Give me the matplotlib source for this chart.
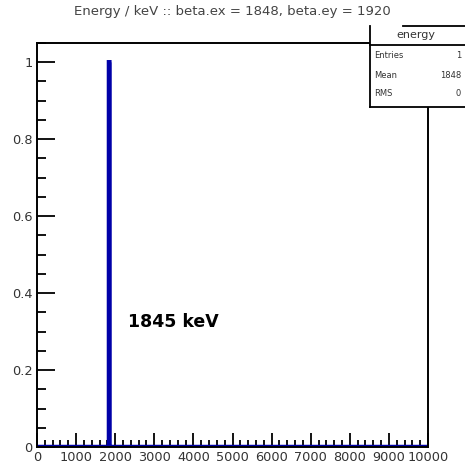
import numpy as np
import matplotlib
matplotlib.use("Agg")
import matplotlib.pyplot as plt
from matplotlib.ticker import MultipleLocator, FuncFormatter
from matplotlib.patches import Rectangle

# ---- data ----
energies = [1848]          # single entry (keV)
n_bins = 1000
x_range = (0, 10000)
title = "Energy / keV :: beta.ex = 1848, beta.ey = 1920"
hist_name = "energy"
stat_labels = ["Entries", "Mean", "RMS"]
stat_values = ["1", "1848", "0"]
peak_label = "1845 keV"

fig = plt.figure(figsize=(4.65, 4.68), dpi=100)
ax = fig.add_axes([0.0796, 0.0449, 0.8408, 0.8632])

ax.hist(energies, bins=n_bins, range=x_range, histtype="step",
        color="#0000a8", linewidth=3.2)

ax.set_xlim(*x_range)
ax.set_ylim(0, 1.05)

ax.xaxis.set_major_locator(MultipleLocator(1000))
ax.xaxis.set_minor_locator(MultipleLocator(200))
ax.yaxis.set_major_locator(MultipleLocator(0.2))
ax.yaxis.set_minor_locator(MultipleLocator(0.05))

def yfmt(v, p):
    if abs(v) < 1e-9:
        return "0"
    if abs(v - 1) < 1e-9:
        return "1"
    return f"{v:.1f}"
ax.yaxis.set_major_formatter(FuncFormatter(yfmt))
ax.xaxis.set_major_formatter(FuncFormatter(lambda v, p: f"{int(round(v))}"))

ax.tick_params(axis="both", which="both", direction="in", top=False, right=False,
               labelsize=9.3, labelcolor="#333333", color="black")
ax.tick_params(axis="y", which="major", length=13, width=1.3, pad=3)
ax.tick_params(axis="y", which="minor", length=6.5, width=1.3)
ax.tick_params(axis="x", which="major", length=10, width=1.3, pad=3)
ax.tick_params(axis="x", which="minor", length=5, width=1.3)
for s in ax.spines.values():
    s.set_linewidth(1.4)

fig.text(0.5, 1 - 12 / 468, title, ha="center", va="center",
         fontsize=9.5, color="#444444")

ax.text(2330, 0.325, peak_label, fontsize=12.5, fontweight="bold", ha="left", va="center")

# stats box (figure pixel coordinates)
W, H = 465, 468
def fx(x): return x / W
def fy(y): return 1 - y / H
box_l, box_r, box_t, box_sep, box_b = 370, 466, 26, 45, 107
fig.add_artist(Rectangle((fx(box_l), fy(box_b)), fx(box_r - box_l), (box_b - box_t) / H,
                         facecolor="white", edgecolor="none", zorder=5))
lines = [
    ([box_l, box_l], [box_t, box_b]),
    ([403, box_r], [box_t, box_t]),
    ([box_l, box_r], [box_sep, box_sep]),
    ([box_l, box_r], [box_b, box_b]),
]
for xs, ys in lines:
    fig.add_artist(plt.Line2D([fx(v) for v in xs], [fy(v) for v in ys],
                              color="black", lw=1.3, zorder=6))
fig.text(fx(416), fy(35), hist_name, ha="center", va="center", fontsize=8, color="#333333", zorder=7)
rows_y = [56, 75, 94]
for lab, val, yy in zip(stat_labels, stat_values, rows_y):
    fig.text(fx(374), fy(yy), lab, ha="left", va="center", fontsize=6, color="#333333", zorder=7)
    fig.text(fx(461), fy(yy), val, ha="right", va="center", fontsize=6, color="#333333", zorder=7)

fig.savefig("out.png", dpi=100)
